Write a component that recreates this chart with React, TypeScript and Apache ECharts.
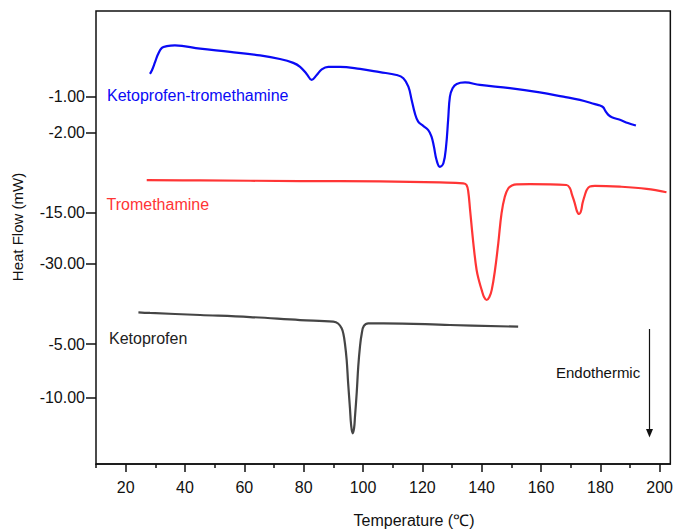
import React, { useEffect, useRef } from "react";
import * as echarts from "echarts";

// Temperature (°C) / heat flow (mW)
const ktTemp = [28.2, 28.9, 29.9, 30.9, 32.2, 33.9, 36.6, 45.1, 55.2, 65.3, 72.0, 76.5, 78.8, 81.0, 82.7, 84.4, 86.1, 88.3, 92.2, 99.0, 105.7, 111.3, 113.6, 115.3, 116.4, 117.5, 118.6, 120.3, 122.0, 123.1, 123.9, 124.8, 125.9, 127.1, 128.0, 128.7, 129.3, 130.2, 131.6, 134.4, 139.4, 149.5, 159.6, 167.5, 173.1, 178.2, 179.9, 181.0, 181.7, 182.7, 183.9, 186.6, 189.3, 192.0];
const ktFlow = [-0.36, -0.25, -0.03, 0.19, 0.37, 0.42, 0.44, 0.35, 0.26, 0.16, 0.06, -0.05, -0.16, -0.36, -0.53, -0.39, -0.23, -0.16, -0.16, -0.22, -0.31, -0.39, -0.48, -0.72, -1.09, -1.47, -1.7, -1.82, -1.94, -2.12, -2.4, -2.78, -2.97, -2.87, -2.4, -1.65, -1.0, -0.76, -0.64, -0.6, -0.67, -0.76, -0.88, -1.0, -1.09, -1.21, -1.25, -1.3, -1.4, -1.51, -1.58, -1.65, -1.74, -1.81];

const tromTemp = [27.1, 45.1, 78.8, 105.7, 125.9, 133.8, 134.9, 135.5, 136.1, 137.2, 138.3, 139.2, 140.0, 140.8, 141.7, 142.6, 143.4, 144.5, 145.6, 146.7, 147.8, 149.0, 150.2, 151.8, 156.3, 168.6, 169.8, 170.4, 171.4, 172.1, 172.8, 173.5, 174.0, 174.8, 175.5, 176.5, 178.2, 186.6, 195.6, 202.3];
const tromFlow = [-5.4, -5.5, -5.7, -5.8, -6.1, -6.35, -6.85, -8.91, -14.21, -24.0, -31.85, -35.3, -37.7, -39.8, -40.68, -39.8, -37.7, -31.85, -24.0, -15.18, -10.29, -7.82, -7.0, -6.65, -6.62, -6.85, -7.88, -9.56, -12.24, -14.5, -15.38, -14.5, -12.24, -9.79, -8.18, -7.29, -7.09, -7.35, -8.0, -9.0];

const ketoTemp = [24.3, 28.2, 45.1, 61.9, 78.8, 90.0, 91.6, 92.8, 93.4, 93.9, 94.5, 95.0, 95.6, 96.0, 96.5, 97.0, 97.3, 97.9, 98.4, 99.0, 99.6, 100.3, 101.8, 106.8, 129.3, 152.3];
const ketoFlow = [-2.05, -2.11, -2.3, -2.49, -2.77, -2.92, -3.09, -3.54, -4.07, -4.93, -6.49, -8.66, -10.96, -12.54, -13.31, -12.82, -11.77, -9.47, -7.11, -5.19, -4.0, -3.32, -3.07, -3.07, -3.23, -3.39];

const xMajorTicks = [20, 40, 60, 80, 100, 120, 140, 160, 180, 200];
const xMinorTicks = [10, 30, 50, 70, 90, 110, 130, 150, 170, 190];
const ktTicks = [-1, -2];
const tromTicks = [-15, -30];
const ketoTicks = [-5, -10];

const FONT = "'Liberation Sans', Arial, sans-serif";
const INK = "#111";

function zip(a: number[], b: number[]) {
  return a.map((v, i) => [v, b[i]]);
}

function yAxisDef(min: number, max: number, ticks: number[]) {
  return {
    type: "value",
    position: "left",
    min,
    max,
    axisLine: { show: false, onZero: false },
    axisTick: {
      show: true,
      customValues: ticks,
      length: 10,
      inside: false,
      lineStyle: { color: INK, width: 1.5 },
    },
    axisLabel: {
      show: true,
      customValues: ticks,
      formatter: (v: number) => v.toFixed(2),
      fontSize: 16,
      fontFamily: FONT,
      color: INK,
      margin: 11,
    },
    splitLine: { show: false },
  };
}

export default function App() {
  const ref = useRef<HTMLDivElement>(null);
  useEffect(() => {
    if (!ref.current) return;
    const chart = echarts.init(ref.current, null, { renderer: "svg" });
    const lineSeries = (name: string, data: number[][], color: string, yIdx: number) => ({
      type: "line",
      name,
      data,
      xAxisIndex: 0,
      yAxisIndex: yIdx,
      showSymbol: false,
      smooth: 0.4,
      clip: false,
      lineStyle: { color, width: 2.2 },
    });
    chart.setOption({
      animation: false,
      backgroundColor: "#fff",
      grid: {
        left: 96,
        top: 11,
        right: 5.5,
        bottom: 65,
        show: true,
        borderColor: INK,
        borderWidth: 1.5,
      },
      xAxis: [
        {
          type: "value",
          position: "bottom",
          min: 10,
          max: 203.6,
          axisLine: { show: true, onZero: false, lineStyle: { color: INK, width: 1.5 } },
          axisTick: { show: true, customValues: xMajorTicks, length: 8, lineStyle: { color: INK, width: 1.5 } },
          axisLabel: {
            show: true,
            customValues: xMajorTicks,
            fontSize: 16,
            fontFamily: FONT,
            color: INK,
            margin: 15,
          },
          splitLine: { show: false },
        },
        {
          type: "value",
          position: "bottom",
          min: 10,
          max: 203.6,
          axisLine: { show: false, onZero: false },
          axisTick: { show: true, customValues: xMinorTicks, length: 4, lineStyle: { color: INK, width: 1.5 } },
          axisLabel: { show: false },
          splitLine: { show: false },
        },
      ],
      yAxis: [
        yAxisDef(-11.317, 1.407, ktTicks),
        yAxisDef(-88.91, 44.32, tromTicks),
        yAxisDef(-16.17, 26.0, ketoTicks),
      ],
      series: [
        lineSeries("Ketoprofen-tromethamine", zip(ktTemp, ktFlow), "#0a0af5", 0),
        lineSeries("Tromethamine", zip(tromTemp, tromFlow), "#ff3535", 1),
        lineSeries("Ketoprofen", zip(ketoTemp, ketoFlow), "#454545", 2),
      ],
      graphic: [
        {
          type: "text",
          x: 107,
          y: 95.5,
          style: { text: "Ketoprofen-tromethamine", fill: "#0a0af5", font: `16px ${FONT}`, verticalAlign: "middle", align: "left" },
        },
        {
          type: "text",
          x: 106.5,
          y: 204,
          style: { text: "Tromethamine", fill: "#ff3535", font: `16px ${FONT}`, verticalAlign: "middle", align: "left" },
        },
        {
          type: "text",
          x: 109,
          y: 338.5,
          style: { text: "Ketoprofen", fill: "#222", font: `16px ${FONT}`, verticalAlign: "middle", align: "left" },
        },
        {
          type: "text",
          x: 556,
          y: 372,
          style: { text: "Endothermic", fill: "#111", font: `15px ${FONT}`, verticalAlign: "middle", align: "left" },
        },
        {
          type: "line",
          shape: { x1: 649.5, y1: 329, x2: 649.5, y2: 431 },
          style: { stroke: "#111", lineWidth: 1.2 },
        },
        {
          type: "polygon",
          shape: { points: [[646, 429], [653, 429], [649.5, 437.5]] },
          style: { fill: "#111" },
        },
        {
          type: "text",
          x: 17,
          y: 227,
          rotation: Math.PI / 2,
          style: { text: "Heat Flow (mW)", fill: "#111", font: `15px ${FONT}`, verticalAlign: "middle", align: "center" },
        },
        {
          type: "text",
          x: 414,
          y: 520,
          style: { text: "Temperature (℃)", fill: "#111", font: `16px ${FONT}`, verticalAlign: "middle", align: "center" },
        },
      ],
    });
    return () => chart.dispose();
  }, []);
  return (
    <div
      ref={ref}
      style={{ position: "fixed", left: 0, top: 0, width: 676, height: 529, background: "#fff" }}
    />
  );
}
